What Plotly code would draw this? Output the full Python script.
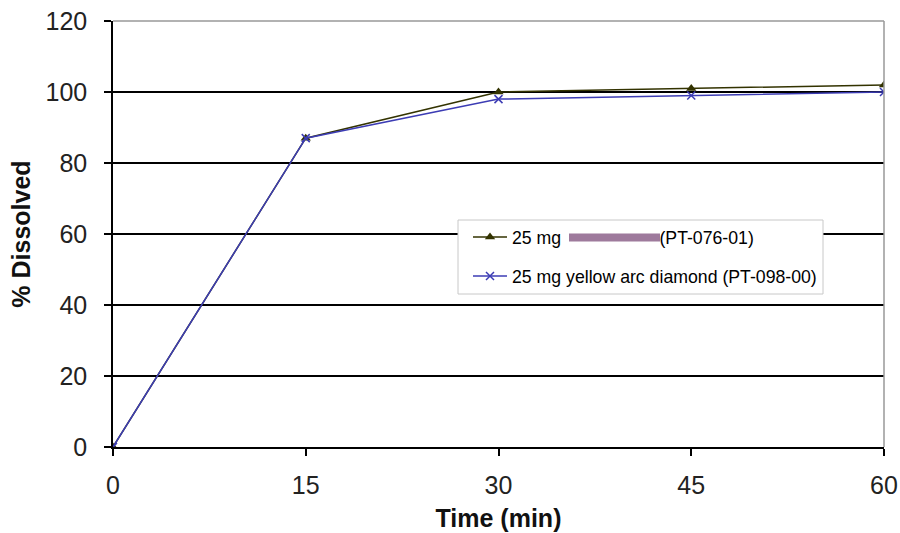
import plotly.graph_objects as go

time_min = [0, 15, 30, 45, 60]
series1_name = "25 mg " + "\u00a0" * 19 + "(PT-076-01)"
series1_vals = [0, 87, 100, 101, 102]
series2_name = "25 mg yellow arc diamond (PT-098-00)"
series2_vals = [0, 87, 98, 99, 100]
x_ticks = [0, 15, 30, 45, 60]
y_ticks = [0, 20, 40, 60, 80, 100, 120]

FONT = "Liberation Sans, Arial, sans-serif"

fig = go.Figure()
fig.add_trace(go.Scatter(
    x=time_min, y=series1_vals, name=series1_name, mode="lines+markers",
    line=dict(color="#333300", width=1.5),
    marker=dict(symbol="triangle-up", size=9, color="#333300"),
    legendgroup="a",
))
fig.add_trace(go.Scatter(
    x=time_min, y=series2_vals, name=series2_name, mode="lines+markers",
    line=dict(color="#3c3cb4", width=1.5),
    marker=dict(symbol="x-thin", size=8, line=dict(color="#3c3cb4", width=1.5)),
    legendgroup="b",
))

# plot area in page pixels: x 113..884, y 21..447 (body margin removed)
L, T = 113, 21
PW, PH = 771, 426

def px_x(p):
    return (p - L) / float(PW)

def px_y(p):
    return (T + PH - p) / float(PH)

fig.update_layout(
    width=900, height=533,
    paper_bgcolor="white", plot_bgcolor="white",
    margin=dict(l=L, r=900 - L - PW, t=T, b=533 - T - PH),
    font=dict(family=FONT, color="#000000"),
    showlegend=True,
    legend=dict(
        x=px_x(468), y=px_y(219), xanchor="left", yanchor="top",
        bgcolor="rgba(0,0,0,0)", borderwidth=0,
        font=dict(size=17.7, family=FONT, color="#000000"),
        tracegroupgap=13, itemwidth=34,
    ),
    xaxis=dict(
        range=[0, 60], tickvals=x_ticks, ticks="outside", ticklen=7,
        tickcolor="black", tickwidth=1.5, automargin=False,
        ticklabeloverflow="allow",
        showline=True, linecolor="black", linewidth=1.5,
        showgrid=False, zeroline=False,
        tickfont=dict(size=25, family=FONT, color="#222222"),
        ticklabelstandoff=8,
        title=dict(text="<b>Time (min)</b>", font=dict(size=25, family=FONT, color="#111111"), standoff=12),
    ),
    yaxis=dict(
        range=[0, 120], tickvals=y_ticks, ticks="outside", ticklen=7,
        tickcolor="black", tickwidth=1.5, automargin=False,
        ticklabeloverflow="allow",
        showline=True, linecolor="black", linewidth=1.5,
        showgrid=True, gridcolor="black", gridwidth=1.5, zeroline=False,
        tickfont=dict(size=25, family=FONT, color="#222222"),
        ticklabelstandoff=12,
        title=dict(text="<b>% Dissolved</b>", font=dict(size=25, family=FONT, color="#111111"), standoff=8),
    ),
    shapes=[
        dict(type="line", xref="paper", yref="paper", x0=0, x1=1, y0=1, y1=1,
             line=dict(color="#999999", width=1.5), layer="above"),
        dict(type="line", xref="paper", yref="paper", x0=1, x1=1, y0=0, y1=1,
             line=dict(color="#999999", width=1.5), layer="above"),
        # legend box
        dict(type="rect", xref="paper", yref="paper",
             x0=px_x(458), x1=px_x(823), y0=px_y(294), y1=px_y(220),
             fillcolor="white", line=dict(color="#c8c8c8", width=1), layer="above"),
        # redaction bar inside the legend
        dict(type="rect", xref="paper", yref="paper",
             x0=px_x(569), x1=px_x(660), y0=px_y(241.5), y1=px_y(233.5),
             fillcolor="#9e7a9c", line=dict(width=0), layer="above"),
    ],
)

fig.write_html(
    "out.html",
    config={"displayModeBar": False},
    post_script="document.body.style.margin='0';document.body.style.overflow='hidden';",
)
